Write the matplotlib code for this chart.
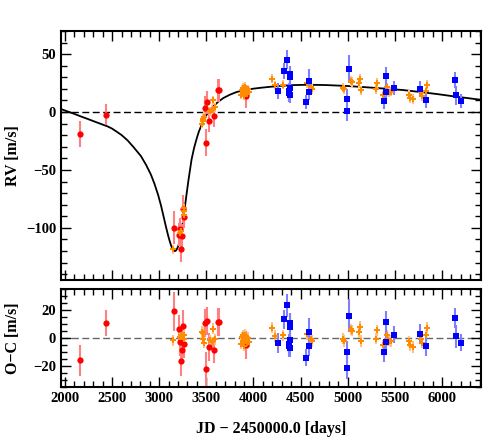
import matplotlib
matplotlib.use("Agg")
import matplotlib.pyplot as plt
from matplotlib.ticker import MultipleLocator

plt.rcParams['font.family'] = ['Liberation Serif', 'DejaVu Serif']
plt.rcParams['font.weight'] = 'bold'

# ---- data ----
# red instrument: time, RV, O-C, error
red_t   = [2159, 2435, 3156, 3206, 3225, 3232, 3240, 3255, 3263, 3485, 3496, 3503, 3524, 3584, 3623, 3634, 3917]
red_rv  = [-18.8, -2.1, -99.8, -105.9, -101.2, -118.5, -107.0, -83.7, -90.3, 3.5, -26.3, 8.3, -7.5, -3.8, 18.7, 18.7, 13.5]
red_oc  = [-16.0, 10.7, 19.0, 6.6, -2.9, -16.4, -8.8, 8.3, -4.3, 10.4, -22.0, 12.4, -6.2, -8.6, 11.4, 11.4, -5.3]
red_err = [11, 9, 14, 10, 10, 11, 10, 12, 10, 10, 12, 10, 10, 9, 10, 10, 10]

# orange instrument
ora_t   = [3143, 3222, 3230, 3258, 3265, 3268,
           3457, 3462, 3467, 3475, 3539, 3556, 3567, 3590,
           3865, 3875, 3885, 3890, 3900, 3905, 3915, 3925, 3935, 3945, 3955,
           4193, 4231, 4256, 4316, 4572, 4608, 4621, 4953, 4958, 5040, 5045,
           5120, 5130, 5138, 5300, 5313, 5372, 5412, 5420, 5430, 5440, 5459,
           5652, 5660, 5690, 5777, 5791, 5827, 5843]
ora_rv  = [-118.5, -104.5, -102.7, -88.8, -85.0, -83.0,
           -10.1, -8.0, -6.0, -4.0, 0.5, 2.0, 10.0, 4.0,
           15.0, 19.0, 21.0, 17.0, 14.0, 20.5, 22.0, 18.0, 16.0, 19.5, 17.5,
           28.8, 23.0, 17.8, 23.6, 25.1, 21.3, 20.0, 21.0, 19.6, 26.8, 26.0,
           25.1, 28.8, 18.7, 19.9, 25.1, 14.4, 21.5, 19.0, 17.5, 17.0, 17.5,
           15.0, 12.1, 11.2, 17.3, 13.5, 17.8, 23.6]
ora_oc  = [-1.7, 1.0, 2.5, -0.5, 1.9, -1.0,
           4.3, 3.6, -0.5, -3.4, -1.7, -3.0, 6.6, -1.0,
           -4.0, 0.5, 2.0, -2.0, -5.5, 1.5, 2.5, -1.5, -3.5, 0.0, -2.5,
           7.4, 1.4, -4.6, 1.9, 2.6, -1.0, -2.1, -0.5, -2.1, 6.1, 5.2,
           4.3, 7.9, -2.1, -0.5, 5.4, -5.3, 1.9, -0.5, -1.5, -2.0, -2.1,
           -2.4, -5.3, -6.4, -0.5, -3.4, 1.9, 7.4]
ora_err = [4] * len(ora_t)

# blue instrument
blu_t   = [4260, 4327, 4359, 4388, 4390, 4385, 4378, 4382, 4386, 4557, 4590, 4592,
           4990, 4992, 5015, 5386, 5407, 5405, 5494, 5770, 5827, 6140, 6150, 6203]
blu_rv  = [18.2, 35.6, 45.2, 32.9, 30.0, 20.8, 18.0, 16.3, 15.1, 8.8, 27.0, 17.3,
           0.7, 11.5, 37.3, 9.5, 30.8, 17.0, 21.0, 19.9, 10.4, 27.7, 14.4, 9.8]
blu_oc  = [-3.4, 13.3, 23.3, 10.7, 7.9, -1.2, -4.0, -5.7, -6.9, -14.0, 4.3, -5.5,
           -21.2, -10.0, 16.0, -10.3, 11.6, -2.9, 2.4, 2.8, -6.0, 14.5, 1.1, -3.4]
blu_err = [7, 7, 8, 7, 8, 8, 7, 8, 7, 6, 10, 7, 8, 8, 12, 7, 8, 7, 6, 7, 7, 7, 8, 6]

# model curve
mod_t  = [1958, 2046, 2100, 2170, 2240, 2311, 2380, 2453, 2500, 2550, 2600, 2665,
          2730, 2806, 2860, 2912, 2950, 2990, 3020, 3043, 3070, 3096, 3115, 3131,
          3145, 3160, 3175, 3190, 3205, 3220, 3240, 3255, 3273, 3290, 3310, 3343,
          3370, 3397, 3420, 3450, 3475, 3503, 3530, 3574, 3620, 3680, 3750, 3821,
          3900, 3998, 4080, 4175, 4300, 4423, 4550, 4650, 4776, 5000, 5236, 5400,
          5589, 5750, 5943, 6150, 6414]
mod_rv = [2.6, 0.0, -1.6, -3.8, -5.9, -8.1, -10.2, -12.4, -14.3, -17.0, -19.8, -24.5,
          -30.5, -38.0, -45.5, -54.0, -62.0, -72.0, -81.0, -89.0, -98.5, -107.0, -112.5, -116.3,
          -118.8, -120.0, -119.8, -118.0, -115.0, -110.5, -101.0, -92.5, -81.6, -71.0, -59.0, -41.0,
          -31.0, -23.0, -17.0, -11.0, -6.5, -2.3, 0.8, 4.8, 8.5, 12.1, 15.0, 17.3,
          18.9, 20.2, 21.0, 21.8, 22.7, 23.3, 23.5, 23.5, 23.3, 22.5, 21.2, 20.2,
          19.0, 17.5, 15.6, 13.3, 10.6]

# ---- figure ----
W, H = 501, 442
fig = plt.figure(figsize=(W / 100, H / 100), dpi=100)
ax1 = fig.add_axes([61 / W, 1 - 280 / H, 420 / W, 249 / H])
ax2 = fig.add_axes([61 / W, 1 - 387 / H, 420 / W, 98 / H])

sets = [
    (red_t, red_rv, red_oc, red_err, '#ff0000', '#ff8080', 'o', 4.5),
    (ora_t, ora_rv, ora_oc, ora_err, '#ff8c00', '#ffc080', 'P', 5),
    (blu_t, blu_rv, blu_oc, blu_err, '#0000ff', '#8080ff', 's', 3.8),
]

ax1.axhline(0, color='black', ls=(0, (5, 2.5)), lw=1.0, zorder=1)
ax1.plot(mod_t, mod_rv, color='black', lw=1.3, zorder=2)
ax2.axhline(0, color='#666666', ls=(0, (5, 2.5)), lw=1.0, zorder=1)

for t, rv, oc, err, c, ec, m, ms in sets:
    ax1.errorbar(t, rv, yerr=err, fmt=m, color=c, ecolor=ec, ms=ms, mew=0,
                 elinewidth=1.5, capsize=0, zorder=3)
    ax2.errorbar(t, oc, yerr=err, fmt=m, color=c, ecolor=ec, ms=ms, mew=0,
                 elinewidth=1.5, capsize=0, zorder=3)

for ax in (ax1, ax2):
    ax.set_xlim(1958, 6414)
    ax.xaxis.set_major_locator(MultipleLocator(500))
    ax.xaxis.set_minor_locator(MultipleLocator(100))
    ax.tick_params(which='both', direction='in', top=True, right=True, width=1.0,
                   labelsize=10.5)
    ax.tick_params(which='major', length=7)
    ax.tick_params(which='minor', length=4)
    for s in ax.spines.values():
        s.set_linewidth(1.5)

ax1.set_ylim(-145, 70)
ax1.yaxis.set_major_locator(MultipleLocator(50))
ax1.yaxis.set_minor_locator(MultipleLocator(10))
ax1.tick_params(labelbottom=False)

ax2.set_ylim(-35, 35)
ax2.yaxis.set_major_locator(MultipleLocator(20))
ax2.yaxis.set_minor_locator(MultipleLocator(5))
ax2.set_xticks([2000, 2500, 3000, 3500, 4000, 4500, 5000, 5500, 6000])
ax2.set_xlim(1958, 6414)

for ax in (ax1, ax2):
    for lab in ax.get_xticklabels() + ax.get_yticklabels():
        lab.set_fontweight('bold')

ax1.set_ylabel('RV [m/s]', fontsize=11.5, fontweight='bold', va='center')
ax2.set_ylabel('O\u2212C [m/s]', fontsize=11.5, fontweight='bold', va='center')
ax2.set_xlabel('JD \u2212 2450000.0 [days]', fontsize=11.5, fontweight='bold', va='center')
ax1.yaxis.set_label_coords((13 - 61) / 420, 0.5)
ax2.yaxis.set_label_coords((13 - 61) / 420, 0.5)
ax2.xaxis.set_label_coords(0.5, -(429 - 387) / 98)

fig.savefig('out.png', dpi=100)
